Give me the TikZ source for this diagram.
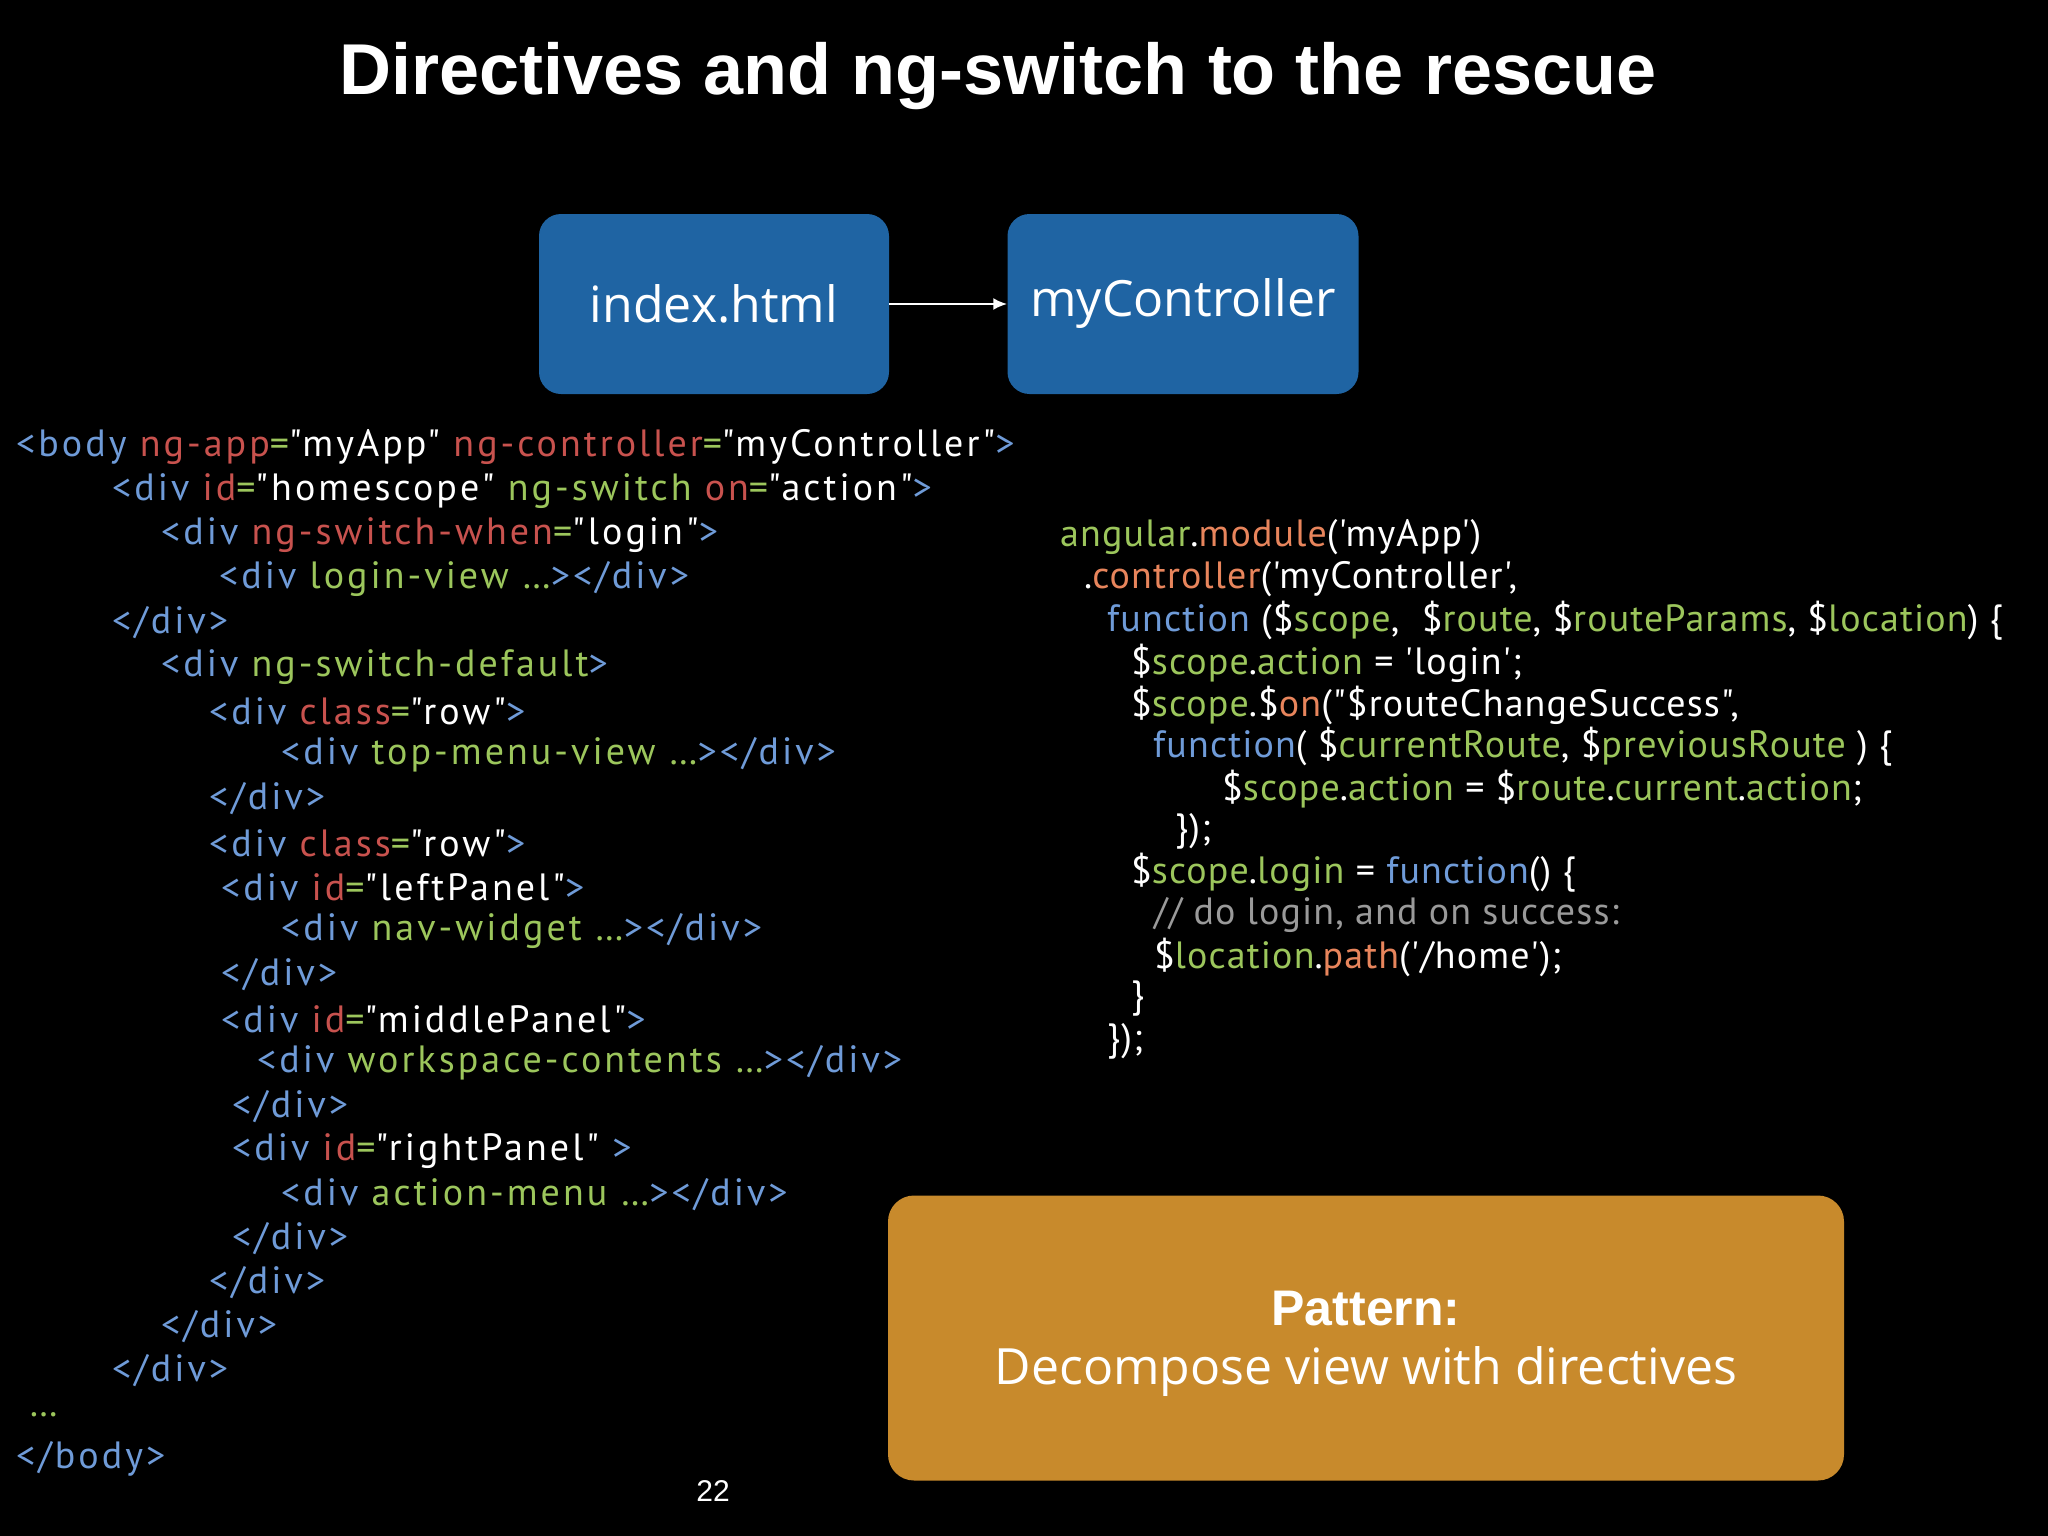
\documentclass[tikz,border=0pt]{standalone}
\usepackage{fontspec}
\usetikzlibrary{arrows.meta}
\setmainfont{Liberation Sans}
\newfontfamily\codef{PT Sans}[LetterSpace=8]
\newfontfamily\codeg{PT Sans}[LetterSpace=3]
\newfontfamily\boxf{Open Sans}
\definecolor{cb}{HTML}{6F9BD8}
\definecolor{cr}{HTML}{C8524E}
\definecolor{cg}{HTML}{9CC65C}
\definecolor{co}{HTML}{E8855C}
\definecolor{cgr}{HTML}{9A9A9A}
\definecolor{boxblue}{HTML}{1F64A3}
\definecolor{boxor}{HTML}{C88A2C}
\newcommand\B[1]{\textcolor{cb}{#1}}
\newcommand\Rr[1]{\textcolor{cr}{#1}}
\newcommand\G[1]{\textcolor{cg}{#1}}
\newcommand\Oo[1]{\textcolor{co}{#1}}
\begin{document}
\begin{tikzpicture}[x=1pt,y=-1pt,
  code/.style={anchor=west,inner sep=0pt,text=white,font=\codef\fontsize{38}{42}\selectfont},
  jcode/.style={anchor=west,inner sep=0pt,text=white,font=\codeg\fontsize{38}{42}\selectfont},
  bbox/.style={fill=boxblue,rounded corners=22pt,text=white,font=\boxf\fontsize{50}{56}\selectfont,inner sep=0pt}]
\fill[black] (0,0) rectangle (2048,1536);
\useasboundingbox (0,0) rectangle (2048,1536);
\node[text=white,font=\bfseries\fontsize{72}{80}\selectfont] (title) at (998,76) {Directives and ng-switch to the rescue};
\node[bbox,minimum width=350pt,minimum height=180pt] (idx) at (714,304) {index.html};
\node[bbox,minimum width=351pt,minimum height=180pt] (ctl) at (1183,304) {myController};
\draw[white,line width=2.5pt,-{Latex[length=14pt,width=12pt]}] (idx.east) -- (ctl.west);
% left code
\node[code] (l1) at (16,447) {\B{<body }\Rr{ng-app}\G{=}"myApp" \Rr{ng-controller}\G{=}"myController"\B{>}};
\node[code] (l2) at (112,491) {\B{<div }\Rr{id}\G{=}"homescope" \G{ng-switch }\Rr{on}\G{=}"action"\B{>}};
\node[code] (l3) at (161,535) {\B{<div }\Rr{ng-switch-when}\G{=}"login"\B{>}};
\node[code] (l4) at (219,579) {\B{<div }\G{login-view …}\B{></div>}};
\node[code] (l5) at (112,623) {\B{</div>}};
\node[code] (l6) at (161,667) {\B{<div }\G{ng-switch-default}\B{>}};
\node[code] (l7) at (209,711) {\B{<div }\Rr{class}\G{=}"row"\B{>}};
\node[code] (l8) at (281,755) {\B{<div }\G{top-menu-view …}\B{></div>}};
\node[code] (l9) at (209,799) {\B{</div>}};
\node[code] (l10) at (209,843) {\B{<div }\Rr{class}\G{=}"row"\B{>}};
\node[code] (l11) at (221,887) {\B{<div }\Rr{id}\G{=}"leftPanel"\B{>}};
\node[code] (l12) at (281,931) {\B{<div }\G{nav-widget …}\B{></div>}};
\node[code] (l13) at (221,975) {\B{</div>}};
\node[code] (l14) at (221,1019) {\B{<div }\Rr{id}\G{=}"middlePanel"\B{>}};
\node[code] (l15) at (257,1063) {\B{<div }\G{workspace-contents …}\B{></div>}};
\node[code] (l16) at (232,1107) {\B{</div>}};
\node[code] (l17) at (232,1151) {\B{<div }\Rr{id}\G{=}"rightPanel" \B{>}};
\node[code] (l18) at (281,1195) {\B{<div }\G{action-menu …}\B{></div>}};
\node[code] (l19) at (232,1239) {\B{</div>}};
\node[code] (l20) at (209,1283) {\B{</div>}};
\node[code] (l21) at (161,1327) {\B{</div>}};
\node[code] (l22) at (112,1371) {\B{</div>}};
\node[code] (l23) at (29,1415) {\G{…}};
\node[code] (l24) at (16,1459) {\B{</body>}};
% right code
\node[jcode] (r1) at (1060,537) {\G{angular}.\Oo{module}('myApp')};
\node[jcode] (r2) at (1084,579) {.\Oo{controller}('myController',};
\node[jcode] (r3) at (1107,621) {\B{function} (\$\G{scope},~ \$\G{route}, \$\G{routeParams}, \$\G{location}) \{};
\node[jcode] (r4) at (1131,663) {\$\G{scope}.\G{action} = 'login';};
\node[jcode] (r5) at (1131,705) {\$\G{scope}.\$\Oo{on}("\$routeChangeSuccess",};
\node[jcode] (r6) at (1153,747) {\B{function}( \$\G{currentRoute}, \$\G{previousRoute} ) \{};
\node[jcode] (r7) at (1222,789) {\$\G{scope}.\G{action} = \$\G{route}.\G{current}.\G{action};};
\node[jcode] (r8) at (1175,831) {\});};
\node[jcode] (r9) at (1131,873) {\$\G{scope}.\G{login} = \B{function}() \{};
\node[jcode] (r10) at (1154,915) {\textcolor{cgr}{// do login, and on success:}};
\node[jcode] (r11) at (1154,957) {\$\G{location}.\Oo{path}('/home');};
\node[jcode] (r12) at (1131,999) {\}};
\node[jcode] (r13) at (1107,1041) {\});};
% pattern box
\node[fill=boxor,rounded corners=26pt,minimum width=956pt,minimum height=285pt,inner sep=0pt] (pat) at (1366,1338) {};
\node[text=white,font=\bfseries\fontsize{50}{56}\selectfont] (pt1) at (1366,1309) {Pattern:};
\node[text=white,font=\boxf\fontsize{50}{56}\selectfont] (pt2) at (1366,1371) {Decompose view with directives};
\node[text=white,font=\fontsize{30}{34}\selectfont] (pg) at (713,1491) {22};
\end{tikzpicture}
\end{document}
